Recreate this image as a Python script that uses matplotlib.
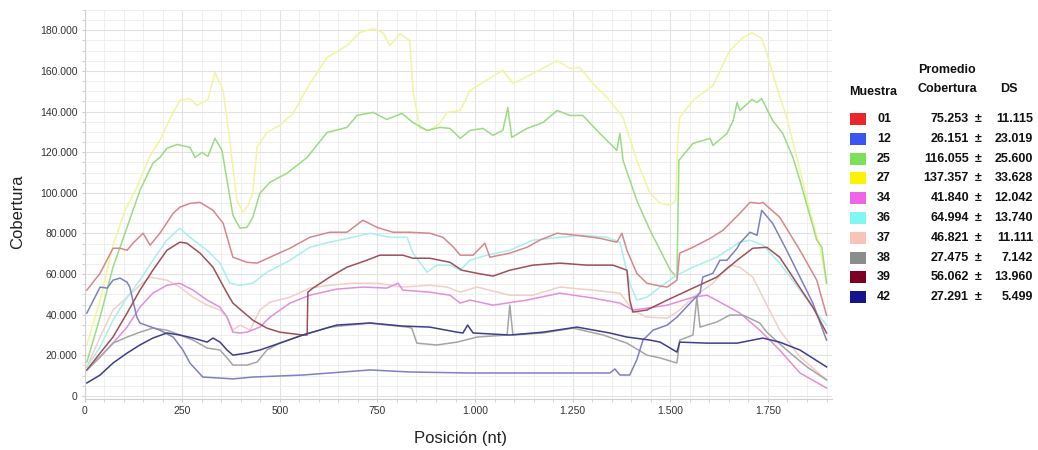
import matplotlib.pyplot as plt
from matplotlib.patches import Rectangle
from matplotlib.ticker import FuncFormatter, MultipleLocator

plt.rcParams['font.family'] = ['Liberation Sans', 'DejaVu Sans']

pos_01 = [6, 40, 73, 91, 109, 124, 150, 168, 193, 227, 244, 270, 296, 329, 355, 380, 416, 442, 475, 526, 577, 628, 672, 713, 749, 790, 833, 884, 918, 945, 962, 995, 1025, 1038, 1089, 1133, 1166, 1210, 1261, 1320, 1363, 1376, 1389, 1414, 1440, 1474, 1492, 1517, 1524, 1558, 1602, 1635, 1678, 1704, 1729, 1737, 1780, 1832, 1875, 1900]
cov_01 = [52.1, 60.4, 72.7, 72.7, 71.7, 75.2, 80.1, 74.2, 80.1, 89.9, 92.9, 94.8, 95.3, 91.4, 85.0, 68.3, 65.8, 65.4, 68.3, 72.7, 78.1, 80.6, 80.6, 86.5, 83.0, 80.6, 80.6, 80.1, 78.1, 73.2, 69.3, 69.3, 75.2, 68.3, 70.3, 73.2, 76.7, 80.1, 79.1, 77.6, 75.7, 80.1, 71.7, 60.4, 55.5, 54.1, 53.6, 57.0, 70.3, 73.2, 77.6, 81.6, 89.9, 95.3, 94.8, 95.3, 88.0, 71.7, 57.0, 39.8]

pos_12 = [6, 40, 58, 73, 91, 109, 116, 134, 142, 193, 227, 252, 270, 303, 347, 380, 431, 559, 731, 833, 987, 1217, 1345, 1358, 1371, 1396, 1414, 1430, 1456, 1492, 1517, 1558, 1576, 1583, 1609, 1627, 1645, 1671, 1678, 1704, 1722, 1734, 1762, 1798, 1832, 1865, 1900]
cov_12 = [40.8, 53.6, 53.1, 57.0, 58.0, 56.0, 53.6, 38.8, 35.9, 32.4, 29.0, 22.6, 16.2, 9.3, 8.8, 8.4, 9.3, 10.3, 12.8, 11.8, 11.3, 11.3, 11.3, 13.3, 10.3, 10.3, 17.7, 27.5, 32.4, 34.9, 38.8, 47.2, 50.6, 58.5, 60.4, 66.8, 66.8, 72.7, 75.2, 80.6, 79.1, 91.4, 85.0, 71.7, 58.5, 45.7, 27.5]

pos_25 = [6, 40, 73, 109, 142, 175, 193, 211, 237, 270, 283, 301, 316, 334, 352, 365, 380, 398, 416, 431, 449, 475, 518, 570, 621, 672, 698, 739, 774, 813, 841, 877, 910, 936, 962, 987, 1020, 1046, 1071, 1084, 1094, 1133, 1174, 1210, 1243, 1276, 1312, 1363, 1371, 1379, 1414, 1448, 1500, 1517, 1522, 1558, 1602, 1609, 1645, 1661, 1671, 1678, 1709, 1722, 1734, 1762, 1788, 1814, 1832, 1875, 1888, 1900]
cov_25 = [16.7, 38.8, 63.4, 83.0, 101.2, 114.5, 117.4, 121.9, 123.8, 122.4, 117.4, 119.9, 117.9, 126.8, 120.9, 106.1, 88.9, 82.6, 83.0, 88.0, 99.8, 105.2, 109.6, 117.4, 129.7, 132.2, 138.1, 139.6, 136.1, 139.1, 134.6, 130.7, 132.2, 131.7, 126.8, 130.7, 131.7, 128.3, 130.7, 142.0, 127.3, 131.7, 134.6, 140.5, 138.1, 138.1, 130.7, 120.9, 129.2, 116.0, 96.3, 81.6, 61.9, 58.5, 116.0, 124.3, 126.8, 123.3, 129.2, 135.6, 144.5, 140.5, 145.9, 144.5, 146.4, 135.6, 129.2, 117.4, 106.1, 76.7, 73.2, 55.5]

pos_27 = [6, 40, 73, 104, 134, 168, 193, 219, 244, 270, 288, 316, 334, 355, 372, 390, 406, 419, 431, 442, 467, 500, 534, 577, 621, 672, 705, 739, 764, 782, 808, 833, 841, 859, 884, 910, 928, 962, 987, 1020, 1071, 1097, 1148, 1210, 1243, 1268, 1302, 1338, 1379, 1414, 1448, 1474, 1500, 1514, 1519, 1524, 1558, 1609, 1652, 1686, 1709, 1734, 1747, 1773, 1798, 1824, 1857, 1883, 1900]
cov_27 = [25.1, 47.2, 74.2, 91.4, 102.7, 118.4, 125.8, 136.6, 145.5, 146.4, 143.0, 145.9, 159.2, 150.4, 125.8, 96.3, 90.4, 93.9, 99.8, 122.4, 129.7, 133.2, 139.1, 153.8, 166.6, 172.5, 178.9, 180.8, 178.9, 172.5, 178.4, 174.9, 150.4, 131.7, 130.7, 134.2, 139.6, 140.5, 150.4, 154.3, 160.2, 153.8, 158.7, 165.1, 161.2, 161.7, 153.8, 146.9, 137.1, 116.0, 99.8, 94.8, 93.9, 96.3, 125.8, 137.1, 145.5, 152.8, 170.0, 176.4, 178.9, 175.9, 168.6, 151.8, 137.1, 117.4, 91.4, 73.2, 55.5]

pos_34 = [6, 40, 73, 109, 142, 175, 211, 244, 278, 314, 347, 365, 380, 398, 416, 449, 475, 526, 577, 646, 713, 774, 803, 815, 884, 936, 962, 987, 1046, 1133, 1217, 1302, 1371, 1404, 1440, 1492, 1558, 1594, 1627, 1678, 1729, 1780, 1832, 1900]
cov_34 = [12.8, 19.2, 26.0, 33.9, 43.7, 50.6, 54.5, 55.5, 52.1, 47.2, 43.7, 38.8, 31.4, 31.0, 31.4, 33.9, 38.8, 45.7, 49.6, 52.6, 53.6, 53.1, 55.5, 52.1, 51.1, 49.6, 45.7, 47.2, 44.7, 47.2, 50.6, 48.2, 45.7, 42.3, 43.2, 44.7, 48.6, 49.6, 46.2, 40.8, 32.4, 22.6, 11.3, 3.9]

pos_36 = [6, 40, 73, 109, 142, 175, 211, 244, 270, 314, 347, 372, 398, 431, 467, 526, 577, 628, 687, 731, 782, 826, 841, 877, 902, 936, 962, 987, 1030, 1089, 1148, 1217, 1276, 1338, 1371, 1396, 1414, 1440, 1474, 1517, 1558, 1619, 1678, 1704, 1737, 1780, 1832, 1875, 1900]
cov_36 = [14.3, 24.1, 37.3, 48.6, 57.0, 66.8, 76.7, 82.6, 78.1, 71.7, 65.4, 55.5, 54.5, 55.5, 60.9, 66.8, 73.2, 75.7, 78.1, 80.1, 78.1, 78.1, 70.3, 60.9, 64.4, 64.4, 61.9, 66.8, 69.3, 71.7, 76.7, 78.1, 79.1, 78.1, 75.7, 55.5, 47.2, 48.6, 53.6, 59.5, 63.4, 68.3, 75.7, 76.7, 74.2, 65.4, 52.1, 40.8, 34.9]

pos_37 = [6, 40, 73, 109, 142, 168, 211, 244, 278, 314, 347, 365, 380, 398, 424, 449, 475, 526, 577, 628, 687, 749, 815, 884, 928, 962, 1005, 1089, 1148, 1217, 1302, 1371, 1404, 1440, 1492, 1524, 1558, 1609, 1652, 1678, 1711, 1737, 1780, 1832, 1900]
cov_37 = [14.3, 29.0, 42.3, 48.6, 54.5, 58.5, 57.0, 53.6, 48.6, 44.7, 42.3, 38.8, 32.4, 34.9, 32.4, 42.3, 46.2, 48.6, 53.1, 54.5, 55.5, 55.5, 53.6, 54.5, 53.6, 51.1, 53.6, 49.6, 49.6, 53.6, 52.1, 50.6, 42.3, 38.8, 38.3, 42.3, 48.6, 55.5, 64.4, 63.4, 58.5, 48.6, 32.4, 19.2, 7.9]

pos_38 = [6, 40, 73, 109, 142, 175, 211, 244, 278, 314, 347, 365, 380, 416, 442, 467, 500, 559, 628, 731, 826, 838, 851, 902, 954, 1005, 1082, 1089, 1097, 1174, 1251, 1328, 1389, 1440, 1474, 1517, 1524, 1558, 1568, 1576, 1619, 1652, 1686, 1729, 1747, 1798, 1850, 1900]
cov_38 = [12.8, 19.2, 26.0, 29.0, 31.4, 33.4, 32.4, 30.0, 27.5, 23.6, 22.6, 18.7, 15.2, 15.2, 16.7, 22.6, 26.0, 30.0, 33.9, 35.9, 33.9, 33.4, 26.0, 25.1, 26.5, 29.0, 30.0, 44.7, 30.0, 31.0, 33.4, 30.0, 26.0, 20.1, 18.7, 16.2, 27.5, 30.0, 48.6, 33.9, 36.4, 39.8, 39.8, 35.9, 31.4, 22.6, 14.3, 7.9]

pos_39 = [6, 40, 73, 109, 142, 175, 211, 244, 262, 296, 329, 365, 380, 431, 467, 500, 559, 570, 572, 585, 628, 672, 723, 756, 815, 841, 884, 936, 966, 1005, 1046, 1089, 1148, 1217, 1286, 1353, 1389, 1396, 1404, 1440, 1492, 1558, 1619, 1671, 1711, 1747, 1780, 1824, 1865, 1900]
cov_39 = [12.8, 21.1, 29.0, 40.8, 52.1, 61.9, 71.7, 75.7, 75.2, 70.3, 63.4, 50.6, 45.7, 37.3, 33.4, 31.4, 30.0, 30.0, 51.1, 53.1, 58.5, 63.4, 66.8, 69.3, 69.3, 67.8, 67.8, 65.8, 61.9, 60.4, 59.0, 61.9, 64.4, 65.4, 64.4, 64.4, 61.9, 47.2, 41.3, 42.3, 47.2, 53.1, 58.5, 66.8, 72.7, 73.2, 68.3, 55.5, 43.7, 31.0]

pos_42 = [6, 40, 73, 109, 142, 175, 211, 244, 278, 314, 329, 347, 365, 380, 416, 449, 500, 559, 646, 731, 815, 884, 954, 969, 981, 995, 1089, 1174, 1261, 1345, 1389, 1448, 1474, 1517, 1524, 1594, 1671, 1737, 1780, 1832, 1900]
cov_42 = [6.4, 10.3, 16.2, 21.1, 25.1, 28.5, 31.0, 30.0, 28.5, 26.5, 28.5, 26.5, 22.6, 20.1, 21.1, 22.6, 26.0, 30.0, 34.9, 35.9, 34.4, 33.9, 31.4, 31.0, 34.9, 31.0, 30.0, 31.4, 33.9, 31.0, 29.0, 27.5, 26.5, 21.6, 26.5, 26.0, 26.0, 28.5, 26.5, 22.6, 14.3]

muestras = ['01', '12', '25', '27', '34', '36', '37', '38', '39', '42']
promedio = [75253, 26151, 116055, 137357, 41840, 64994, 46821, 27475, 56062, 27291]
desvio = [11115, 23019, 25600, 33628, 12042, 13740, 11111, 7142, 13960, 5499]

series = {
    '01': (pos_01, cov_01), '12': (pos_12, cov_12), '25': (pos_25, cov_25),
    '27': (pos_27, cov_27), '34': (pos_34, cov_34), '36': (pos_36, cov_36),
    '37': (pos_37, cov_37), '38': (pos_38, cov_38), '39': (pos_39, cov_39),
    '42': (pos_42, cov_42),
}
color_linea = {'01': '#d9868a', '12': '#7b80c8', '25': '#98dd80', '27': '#f2f59c',
               '34': '#e28ee0', '36': '#a6f0ee', '37': '#f2cec6', '38': '#a5a5a5',
               '39': '#9e5058', '42': '#3e3e8a'}
color_leyenda = {'01': '#e8262b', '12': '#3a56f0', '25': '#7ce05a', '27': '#fff200',
                 '34': '#ee66e6', '36': '#80f7f2', '37': '#f8c4b8', '38': '#8c8c8c',
                 '39': '#7d0022', '42': '#14148c'}
orden = ['27', '25', '37', '34', '36', '01', '38', '12', '39', '42']

W, H = 1038, 450
fig = plt.figure(figsize=(W / 100, H / 100), dpi=100)
ax = fig.add_axes([84.5 / W, 1 - 399 / H, (832 - 84.5) / W, (399 - 10) / H])

for m in orden:
    x, y = series[m]
    ax.plot(x, y, color=color_linea[m], lw=1.1)

ax.set_xlim(0, 1914)
ax.set_ylim(-1.5, 190)
ax.xaxis.set_major_locator(MultipleLocator(250))
ax.xaxis.set_minor_locator(MultipleLocator(50))
ax.yaxis.set_major_locator(MultipleLocator(20))
ax.yaxis.set_minor_locator(MultipleLocator(5))
ax.xaxis.set_major_formatter(FuncFormatter(lambda v, p: f"{v:,.0f}".replace(",", ".")))
ax.yaxis.set_major_formatter(FuncFormatter(lambda v, p: f"{v * 1000:,.0f}".replace(",", ".")))
ax.grid(which='major', color='#e2e2e2', lw=0.8)
ax.grid(which='minor', color='#ededed', lw=0.6)
ax.set_axisbelow(True)
ax.tick_params(which='both', length=2, color='#cccccc', labelsize=7.5, labelcolor='#333333', pad=3)
for s in ['top', 'right']:
    ax.spines[s].set_visible(False)
for s in ['left', 'bottom']:
    ax.spines[s].set_color('#d0d0d0')

fig.canvas.draw()
ax.get_xticklabels()[0].set_fontsize(5)
ax.get_yticklabels()[0].set_fontsize(5)

fig.text(460 / W, 1 - 438 / H, 'Posición (nt)', ha='center', va='center', fontsize=12, color='#222222')
fig.text(18 / W, 1 - 212 / H, 'Cobertura', ha='center', va='center', rotation=90, fontsize=12, color='#222222')

# tabla de leyenda
def fx(px):
    return px / W

def fy(py):
    return 1 - py / H

kw = dict(fontsize=9, fontweight='bold', color='#111111', va='center')
fig.text(fx(849), fy(92), 'Muestra', ha='left', **kw)
fig.text(fx(947), fy(70), 'Promedio', ha='center', **kw)
fig.text(fx(947), fy(89), 'Cobertura', ha='center', **kw)
fig.text(fx(1009), fy(89), 'DS', ha='center', **kw)
for i, m in enumerate(muestras):
    yc = 119 + 19.8 * i
    fig.add_artist(Rectangle((fx(850), fy(yc + 6)), 16 / W, 12 / H, transform=fig.transFigure,
                             facecolor=color_leyenda[m], edgecolor='none'))
    fig.text(fx(877), fy(yc), m, ha='left', **kw)
    fig.text(fx(969), fy(yc), f"{promedio[i]:,}".replace(",", "."), ha='right', **kw)
    fig.text(fx(978), fy(yc), '±', ha='center', **kw)
    fig.text(fx(1033), fy(yc), f"{desvio[i]:,}".replace(",", "."), ha='right', **kw)

fig.savefig('out.png', dpi=100)
